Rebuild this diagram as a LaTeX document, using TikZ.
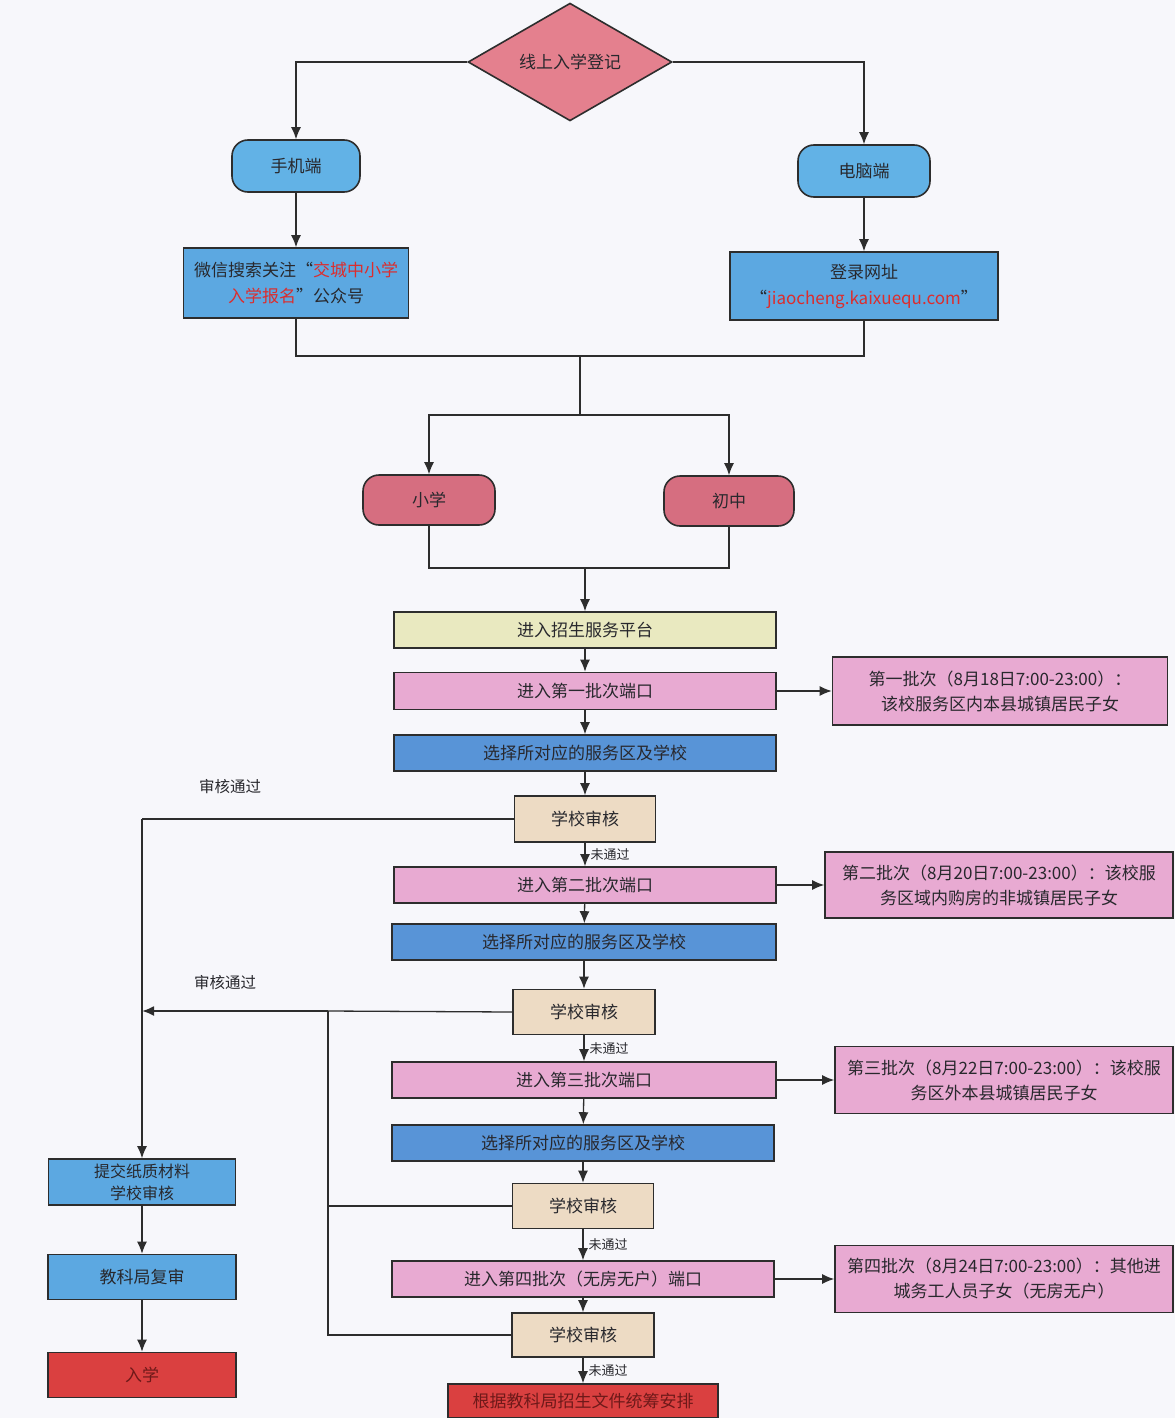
\documentclass[tikz,border=0pt]{standalone}
\usepackage{fontspec}
\setmainfont{Noto Sans CJK SC}
\usetikzlibrary{shapes.geometric,arrows.meta}
\definecolor{bgc}{RGB}{247,247,251}
\definecolor{lc}{RGB}{45,45,45}
\definecolor{tc}{RGB}{40,40,45}
\definecolor{diac}{RGB}{228,128,142}
\definecolor{skyc}{RGB}{98,178,230}
\definecolor{bluec}{RGB}{92,168,225}
\definecolor{selc}{RGB}{88,148,215}
\definecolor{rosec}{RGB}{214,110,128}
\definecolor{yelc}{RGB}{233,233,192}
\definecolor{pinkc}{RGB}{232,170,210}
\definecolor{beigec}{RGB}{237,219,196}
\definecolor{redc}{RGB}{218,64,64}
\definecolor{redt}{RGB}{220,45,45}
\begin{document}
\begin{tikzpicture}[x=1pt,y=-1pt,
  bx/.style={draw=lc, line width=1.6pt, inner sep=0pt, align=center, text=tc,
    font=\fontsize{17}{25}\selectfont},
  rbx/.style={bx, rounded corners=16pt},
  lbl/.style={inner sep=1pt, text=tc, font=\fontsize{15.5}{17}\selectfont},
  slbl/.style={inner sep=1pt, text=tc, font=\fontsize{13}{14}\selectfont},
  ln/.style={draw=lc, line width=1.3pt},
  arr/.style={draw=lc, line width=1.3pt, -{Latex[length=12pt,width=10pt]}}]
\fill[bgc] (0,0) rectangle (1175,1418);
\useasboundingbox (0,0) rectangle (1175,1418);

% top part
\node[bx, diamond, fill=diac, minimum width=204pt, minimum height=91pt] (start) at (570,62) {线上入学登记};
\node[rbx, fill=skyc, minimum width=128pt, minimum height=52pt] (phone) at (296,166) {手机端};
\node[rbx, fill=skyc, minimum width=132pt, minimum height=52pt] (pc) at (864,171) {电脑端};
\node[bx, fill=bluec, minimum width=225pt, minimum height=70pt, font=\fontsize{17}{26}\selectfont] (wx) at (296,283)
  {微信搜索关注“\textcolor{redt}{交城中小学}\\\textcolor{redt}{入学报名}”公众号};
\node[bx, fill=bluec, minimum width=268pt, minimum height=68pt, font=\fontsize{17}{26}\selectfont] (web) at (864,286)
  {登录网址\\“\textcolor{redt}{jiaocheng.kaixuequ.com}”};
\node[rbx, fill=rosec, minimum width=132pt, minimum height=50pt] (xx) at (429,500) {小学};
\node[rbx, fill=rosec, minimum width=130pt, minimum height=50pt] (cz) at (729,501) {初中};

% main column
\node[bx, fill=yelc, minimum width=382pt, minimum height=36pt] (plat) at (585,630) {进入招生服务平台};
\node[bx, fill=pinkc, minimum width=382pt, minimum height=37pt] (p1) at (585,691) {进入第一批次端口};
\node[bx, fill=selc, minimum width=382pt, minimum height=36pt] (s1) at (585,753) {选择所对应的服务区及学校};
\node[bx, fill=beigec, minimum width=141pt, minimum height=46pt] (r1) at (585,819) {学校审核};
\node[bx, fill=pinkc, minimum width=382pt, minimum height=36pt] (p2) at (585,885) {进入第二批次端口};
\node[bx, fill=selc, minimum width=384pt, minimum height=36pt] (s2) at (584,942) {选择所对应的服务区及学校};
\node[bx, fill=beigec, minimum width=142pt, minimum height=45pt] (r2) at (584,1012) {学校审核};
\node[bx, fill=pinkc, minimum width=384pt, minimum height=36pt] (p3) at (584,1080) {进入第三批次端口};
\node[bx, fill=selc, minimum width=382pt, minimum height=36pt] (s3) at (583,1143) {选择所对应的服务区及学校};
\node[bx, fill=beigec, minimum width=141pt, minimum height=45pt] (r3) at (583,1206) {学校审核};
\node[bx, fill=pinkc, minimum width=382pt, minimum height=36pt] (p4) at (583,1279) {进入第四批次（无房无户）端口};
\node[bx, fill=beigec, minimum width=142pt, minimum height=44pt] (r4) at (583,1335) {学校审核};
\node[bx, fill=redc, minimum width=270pt, minimum height=34pt, text={rgb,255:red,110;green,25;blue,25}] (fin) at (583,1401) {根据教科局招生文件统筹安排};

% batch boxes
\node[bx, fill=pinkc, minimum width=335pt, minimum height=68pt] (b1) at (1000,691)
  {第一批次（8月18日7:00-23:00）：\\该校服务区内本县城镇居民子女};
\node[bx, fill=pinkc, minimum width=348pt, minimum height=66pt] (b2) at (999,885)
  {第二批次（8月20日7:00-23:00）：该校服\\务区域内购房的非城镇居民子女};
\node[bx, fill=pinkc, minimum width=338pt, minimum height=67pt] (b3) at (1004,1080)
  {第三批次（8月22日7:00-23:00）：该校服\\务区外本县城镇居民子女};
\node[bx, fill=pinkc, minimum width=338pt, minimum height=67pt] (b4) at (1004,1279)
  {第四批次（8月24日7:00-23:00）：其他进\\城务工人员子女（无房无户）};

% left column
\node[bx, fill=bluec, minimum width=187pt, minimum height=46pt, font=\fontsize{16}{22}\selectfont] (paper) at (142,1182) {提交纸质材料\\学校审核};
\node[bx, fill=bluec, minimum width=188pt, minimum height=45pt] (rev) at (142,1277) {教科局复审};
\node[bx, fill=redc, minimum width=188pt, minimum height=45pt, text={rgb,255:red,110;green,25;blue,25}] (ru) at (142,1375) {入学};

% connectors top
\draw[arr] (start.west) -| (phone.north);
\draw[arr] (start.east) -| (pc.north);
\draw[arr] (phone) -- (wx);
\draw[arr] (pc) -- (web);
\coordinate (m1) at (580,356);
\coordinate (m2) at (580,415);
\coordinate (m3) at (585,568);
\draw[ln] (wx.south) |- (m1) -| (web.south);
\draw[ln] (m1) -- (m2);
\draw[arr] (m2) -| (xx.north);
\draw[arr] (m2) -| (cz.north);
\draw[ln] (xx.south) |- (m3) -| (cz.south);
\draw[arr] (m3) -- (plat.north);

% main column connectors
\draw[arr] (plat) -- (p1);
\draw[arr] (p1) -- (s1);
\draw[arr] (s1) -- (r1);
\draw[arr] (r1) -- node[slbl, right, xshift=4pt] {未通过} (p2);
\draw[arr] (p2) -- (s2);
\draw[arr] (s2) -- (r2);
\draw[arr] (r2) -- node[slbl, right, xshift=4pt] {未通过} (p3);
\draw[arr] (p3) -- (s3);
\draw[arr] (s3) -- (r3);
\draw[arr] (r3) -- node[slbl, right, xshift=4pt] {未通过} (p4);
\draw[arr] (p4) -- (r4);
\draw[arr] (r4) -- node[slbl, right, xshift=4pt] {未通过} (fin);

% batch arrows
\draw[arr] (p1) -- (b1);
\draw[arr] (p2) -- (b2);
\draw[arr] (p3) -- (b3);
\draw[arr] (p4) -- (b4);

% left connectors
\coordinate (L1) at (142,819);
\coordinate (J) at (328,1011);
\coordinate (L2) at (142,1011);
\draw[ln] (r1.west) -- (L1);
\draw[arr] (L1) -- (paper.north);
\node[lbl] (t1) at (230,787) {审核通过};
\draw[ln] (r2.west) -- (J);
\draw[ln] (r3.west) -| (J);
\draw[ln] (r4.west) -| (J);
\draw[arr, line width=2pt] (J) -- (L2);
\node[lbl] (t2) at (225,983) {审核通过};
\draw[arr] (paper) -- (rev);
\draw[arr] (rev) -- (ru);
\end{tikzpicture}
\end{document}
